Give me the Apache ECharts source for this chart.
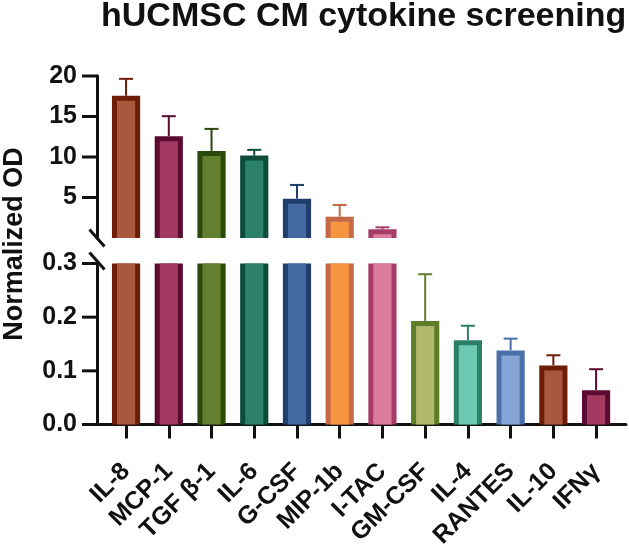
<!DOCTYPE html>
<html>
<head>
<meta charset="utf-8">
<script src="https://cdn.jsdelivr.net/npm/echarts@6/dist/echarts.min.js"></script>
<style>
  html, body { margin: 0; padding: 0; background: #fff; }
  #main { width: 629px; height: 544px; }
</style>
</head>
<body>
<div id="main"></div>
<script>
// values (mean, SD)
var categories = ['IL-8', 'MCP-1', 'TGF β-1', 'IL-6', 'G-CSF', 'MIP-1b', 'I-TAC', 'GM-CSF', 'IL-4', 'RANTES', 'IL-10', 'IFNγ'];
var means = [17.55, 12.57, 10.75, 10.17, 4.86, 2.63, 1.08, 0.193, 0.157, 0.138, 0.110, 0.064];
var errors = [2.10, 2.47, 2.72, 0.71, 1.69, 1.45, 0.24, 0.087, 0.027, 0.022, 0.019, 0.039];
var fillColors = ['#A9573D', '#A23A62', '#637F30', '#2C8169', '#4569A2', '#F7943F', '#DC7C9C', '#AFB86C', '#6CC9B2', '#84A5D6', '#A9573D', '#A23A62'];
var borderColors = ['#6E1D08', '#5C0A31', '#2A4A0B', '#0D4B3A', '#203E6C', '#C46A4A', '#A63C68', '#5E7D2A', '#2D8068', '#4A70AA', '#6E1D08', '#5C0A31'];
var lowerTicks = [0, 0.1, 0.2, 0.3];
var upperTicks = [5, 10, 15, 20];

var FONT = 'Arial, "Liberation Sans", sans-serif';
var INK = '#111';
var breakVal = lowerTicks[lowerTicks.length - 1];

// layout
var AXIS_X = 97;
var LOW_TOP = 263.5, LOW_H = 161;
var UP_TOP = 76, UP_H = 162;
var TICK_LEN = 15;
var X_MIN = -0.68, X_MAX = 11.7;

var chart = echarts.init(document.getElementById('main'));

function makeRender(isUpper) {
  return function (params, api) {
    var i = api.value(0), v = api.value(1), e = api.value(2);
    if (isUpper && v <= breakVal) return null;
    var cs = params.coordSys;
    var x = api.coord([i, 0])[0];
    var w = api.size([0.66, 0])[0];
    var b = 5;
    var yV = api.coord([i, v])[1];
    var yBase = api.coord([i, 0])[1];
    var top = Math.max(yV, cs.y);
    var bottom = Math.min(yBase, cs.y + cs.height);
    var inside = yV >= cs.y - 0.5;
    var idx = params.dataIndex;
    var children = [
      { type: 'rect', shape: { x: x - w / 2, y: top, width: w, height: bottom - top },
        style: { fill: borderColors[idx] } },
      { type: 'rect', shape: { x: x - w / 2 + b, y: top + (inside ? b : 0), width: w - 2 * b,
        height: Math.max(0, bottom - top - (inside ? b : 0)) },
        style: { fill: fillColors[idx] } }
    ];
    if (inside) {
      var yE = api.coord([i, v + e])[1];
      children.push({ type: 'line', shape: { x1: x, y1: yV, x2: x, y2: yE },
        style: { stroke: borderColors[idx], lineWidth: 2 } });
      children.push({ type: 'line', shape: { x1: x - 7, y1: yE, x2: x + 7, y2: yE },
        style: { stroke: borderColors[idx], lineWidth: 2 } });
    }
    return { type: 'group', children: children };
  };
}

// y-axis ticks: small filled rects left of the axis, placed through the y scale
function tickRender(params, api) {
  var p = api.coord([X_MIN, api.value(1)]);
  return { type: 'rect', shape: { x: p[0] - TICK_LEN, y: p[1] - 1.5, width: TICK_LEN + 1, height: 3 },
    style: { fill: INK } };
}

var data = categories.map(function (c, i) { return [i, means[i], errors[i]]; });
var idxs = categories.map(function (c, i) { return i; });

chart.setOption({
  animation: false,
  title: {
    text: 'hUCMSC CM cytokine screening',
    left: 101, top: 0, padding: 0,
    textStyle: { fontFamily: FONT, fontSize: 34, fontWeight: 'bold', color: INK }
  },
  grid: [
    { left: AXIS_X, top: LOW_TOP, height: LOW_H, right: 3, outerBoundsMode: 'none' },
    { left: AXIS_X, top: UP_TOP, height: UP_H, right: 3, outerBoundsMode: 'none' }
  ],
  xAxis: [
    {
      type: 'value', gridIndex: 0, min: X_MIN, max: X_MAX,
      splitLine: { show: false },
      axisLine: { show: true, onZero: false, lineStyle: { color: INK, width: 3 } },
      axisTick: { show: true, customValues: idxs, length: 14, lineStyle: { color: INK, width: 3 } },
      axisLabel: {
        customValues: idxs, rotate: 45, margin: 43,
        formatter: function (v) { return categories[v]; },
        fontFamily: FONT, fontSize: 25, fontWeight: 'bold', color: INK
      }
    },
    { type: 'value', gridIndex: 1, min: X_MIN, max: X_MAX, show: false }
  ],
  yAxis: [
    {
      type: 'value', gridIndex: 0, min: 0, max: breakVal, interval: 0.1,
      splitLine: { show: false },
      axisLine: { show: true, onZero: false, lineStyle: { color: INK, width: 3 } },
      axisTick: { show: false },
      axisLabel: {
        margin: 20, formatter: function (v) { return v.toFixed(1); },
        fontFamily: FONT, fontSize: 25, fontWeight: 'bold', color: INK
      }
    },
    {
      type: 'value', gridIndex: 1, min: 0, max: 20,
      splitLine: { show: false },
      axisLine: { show: true, onZero: false, lineStyle: { color: INK, width: 3 } },
      axisTick: { show: false },
      axisLabel: {
        customValues: upperTicks, margin: 20,
        fontFamily: FONT, fontSize: 25, fontWeight: 'bold', color: INK
      }
    }
  ],
  graphic: [
    { type: 'line', shape: { x1: AXIS_X - 7.5, y1: UP_TOP + UP_H - 8.5, x2: AXIS_X + 7.5, y2: UP_TOP + UP_H + 8.5 },
      style: { stroke: INK, lineWidth: 3 } },
    { type: 'line', shape: { x1: AXIS_X - 7.5, y1: LOW_TOP - 11, x2: AXIS_X + 7.5, y2: LOW_TOP + 6 },
      style: { stroke: INK, lineWidth: 3 } },
    { type: 'text', x: 15, y: 244, rotation: Math.PI / 2,
      style: { text: 'Normalized OD', fontFamily: FONT, fontSize: 27, fontWeight: 'bold', fill: INK,
        align: 'center', verticalAlign: 'middle' } }
  ],
  series: [
    { type: 'custom', xAxisIndex: 0, yAxisIndex: 0, data: data, renderItem: makeRender(false), clip: false },
    { type: 'custom', xAxisIndex: 1, yAxisIndex: 1, data: data, renderItem: makeRender(true), clip: false },
    { type: 'custom', xAxisIndex: 0, yAxisIndex: 0, silent: true, clip: false, z: 10,
      data: lowerTicks.map(function (v) { return [X_MIN, v]; }), renderItem: tickRender },
    { type: 'custom', xAxisIndex: 1, yAxisIndex: 1, silent: true, clip: false, z: 10,
      data: upperTicks.map(function (v) { return [X_MIN, v]; }), renderItem: tickRender }
  ]
});
</script>
</body>
</html>
